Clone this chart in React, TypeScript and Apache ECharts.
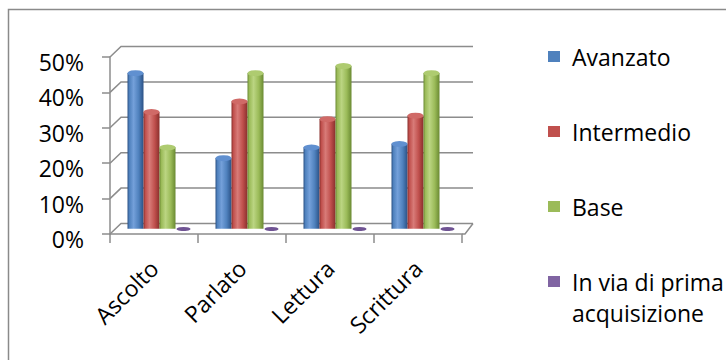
import React, { useEffect, useRef } from 'react';
import * as echarts from 'echarts';

const categories = ['Ascolto', 'Parlato', 'Lettura', 'Scrittura'];
const seriesNames = ['Avanzato', 'Intermedio', 'Base', 'In via di prima acquisizione'];
const avanzato = [0.44, 0.2, 0.23, 0.24];
const intermedio = [0.33, 0.36, 0.31, 0.32];
const base = [0.23, 0.44, 0.46, 0.44];
const primaAcquisizione = [0, 0, 0, 0];
const yTicks = [0, 0.1, 0.2, 0.3, 0.4, 0.5];

const palette = [
  { base: '#4F81BD', dark: '#2b5185', light: '#74a0da', cap: '#6090d0', rim: '#35639c' },
  { base: '#C0504D', dark: '#8a2f2c', light: '#d87b78', cap: '#d06a67', rim: '#9c3b38' },
  { base: '#9BBB59', dark: '#6a8a32', light: '#bbd582', cap: '#aecb70', rim: '#789a3e' },
  { base: '#8064A2', dark: '#5a437a', light: '#a08bc0', cap: '#6f5393', rim: '#5a437a' },
];

const FONT = "'Open Sans', 'Noto Sans', sans-serif";
const FS = 23;
const GRID_COLOR = '#8c8c8c';
const DX = 11;
const DY = 10.5;
const FRONT = { left: 110, right: 264, top: 57, bottom: 126 };

export default function App() {
  const ref = useRef<HTMLDivElement>(null);

  useEffect(() => {
    if (!ref.current) return;
    const chart = echarts.init(ref.current, undefined, { renderer: 'svg' });
    const values = [avanzato, intermedio, base, primaAcquisizione];

    const barGradient = (p: any) => ({
      type: 'linear', x: 0, y: 0, x2: 1, y2: 0,
      colorStops: [
        { offset: 0, color: p.dark },
        { offset: 0.12, color: p.base },
        { offset: 0.38, color: p.light },
        { offset: 0.7, color: p.base },
        { offset: 1, color: p.dark },
      ],
    });

    const bars: any[] = values.map((d, i) => ({
      name: seriesNames[i],
      type: 'bar',
      xAxisIndex: 1,
      yAxisIndex: 1,
      data: d,
      barWidth: 16,
      barGap: '0%',
      z: 2,
      itemStyle: { color: barGradient(palette[i]) },
    }));
    const caps: any[] = values.map((d, i) => ({
      name: seriesNames[i],
      type: 'pictorialBar',
      xAxisIndex: 1,
      yAxisIndex: 1,
      data: d,
      barWidth: 16,
      barGap: '0%',
      symbol: 'circle',
      symbolSize: i === 3 ? [14, 4] : [16, 6],
      symbolPosition: 'end',
      symbolOffset: [0, '-50%'],
      z: 3,
      itemStyle: { color: palette[i].cap, borderColor: palette[i].rim, borderWidth: 0.6 },
    }));

    const legendCommon = {
      orient: 'vertical',
      left: 548,
      padding: 0,
      itemWidth: 12,
      itemHeight: 11,
      itemGap: 44,
      icon: 'rect',
      selectedMode: false,
      formatter: (n: string) => (n === seriesNames[3] ? '\nIn via di prima\nacquisizione' : n),
      textStyle: { fontSize: FS, color: '#000', lineHeight: 31, padding: [0, 0, 0, 7], fontFamily: FONT },
    };
    const legendItem = (i: number) => ({
      name: seriesNames[i],
      itemStyle: { color: palette[i].base, borderWidth: 0 },
    });

    chart.setOption({
      animation: false,
      textStyle: { fontFamily: FONT },
      color: palette.map((p) => p.base),
      legend: [
        { ...legendCommon, top: 41, data: [0, 1, 2].map(legendItem) },
        { ...legendCommon, top: 235, data: [legendItem(3)] },
      ],
      grid: [
        { ...FRONT },
        {
          left: FRONT.left + DX / 2,
          right: FRONT.right - DX / 2,
          top: FRONT.top - DY / 2,
          bottom: FRONT.bottom + DY / 2,
        },
      ],
      xAxis: [
        {
          type: 'category',
          gridIndex: 0,
          data: categories,
          boundaryGap: true,
          axisLine: { lineStyle: { color: GRID_COLOR, width: 1.5 } },
          axisTick: { show: true, length: 9, interval: 0, lineStyle: { color: GRID_COLOR, width: 1.5 } },
          axisLabel: { rotate: 45, margin: 30, fontSize: FS, color: '#000', fontFamily: FONT, interval: 0 },
        },
        { type: 'category', gridIndex: 1, data: categories, show: false },
      ],
      yAxis: [
        {
          type: 'value',
          gridIndex: 0,
          min: 0,
          max: 0.5,
          interval: 0.1,
          splitLine: { show: false },
          axisLine: { show: true, lineStyle: { color: GRID_COLOR, width: 1.5 } },
          axisTick: { show: true, length: 8, lineStyle: { color: GRID_COLOR, width: 1.5 } },
          axisLabel: {
            margin: 26,
            fontSize: FS,
            color: '#000',
            fontFamily: FONT,
            verticalAlign: 'top',
            lineHeight: 10,
            formatter: (v: number) => Math.round(v * 100) + '%',
          },
        },
        { type: 'value', gridIndex: 1, min: 0, max: 0.5, interval: 0.1, show: false, splitLine: { show: false } },
      ],
      series: [...bars, ...caps],
    });

    // 3D walls drawn from the front axes' scale
    const cx = categories.map((c) => chart.convertToPixel({ xAxisIndex: 0 }, c) as number);
    const band = cx[1] - cx[0];
    const x0 = cx[0] - band / 2;
    const x1 = cx[cx.length - 1] + band / 2;
    const lineStyle = { stroke: GRID_COLOR, lineWidth: 1.5 };
    const graphics: any[] = [];
    yTicks.forEach((v) => {
      const fy = chart.convertToPixel({ yAxisIndex: 0 }, v) as number;
      graphics.push({
        type: 'polyline',
        silent: true,
        z: 0,
        shape: { points: [[x0, fy], [x0 + DX, fy - DY], [x1 + DX, fy - DY]] },
        style: { ...lineStyle, fill: 'none' },
      });
    });
    const fy0 = chart.convertToPixel({ yAxisIndex: 0 }, 0) as number;
    graphics.push({
      type: 'polyline',
      silent: true,
      z: 0,
      shape: { points: [[x1, fy0], [x1 + 3, fy0], [x1 + DX, fy0 - DY]] },
      style: { ...lineStyle, fill: 'none' },
    });
    graphics.push({
      type: 'rect',
      silent: true,
      z: 0,
      shape: { x: 8.5, y: 9.5, width: 800, height: 500 },
      style: { stroke: '#8a8a8a', lineWidth: 1.5, fill: 'none' },
    });
    chart.setOption({ graphic: graphics });

    return () => chart.dispose();
  }, []);

  return (
    <div
      ref={ref}
      style={{ position: 'fixed', left: 0, top: 0, width: 726, height: 360, background: '#fff' }}
    />
  );
}
